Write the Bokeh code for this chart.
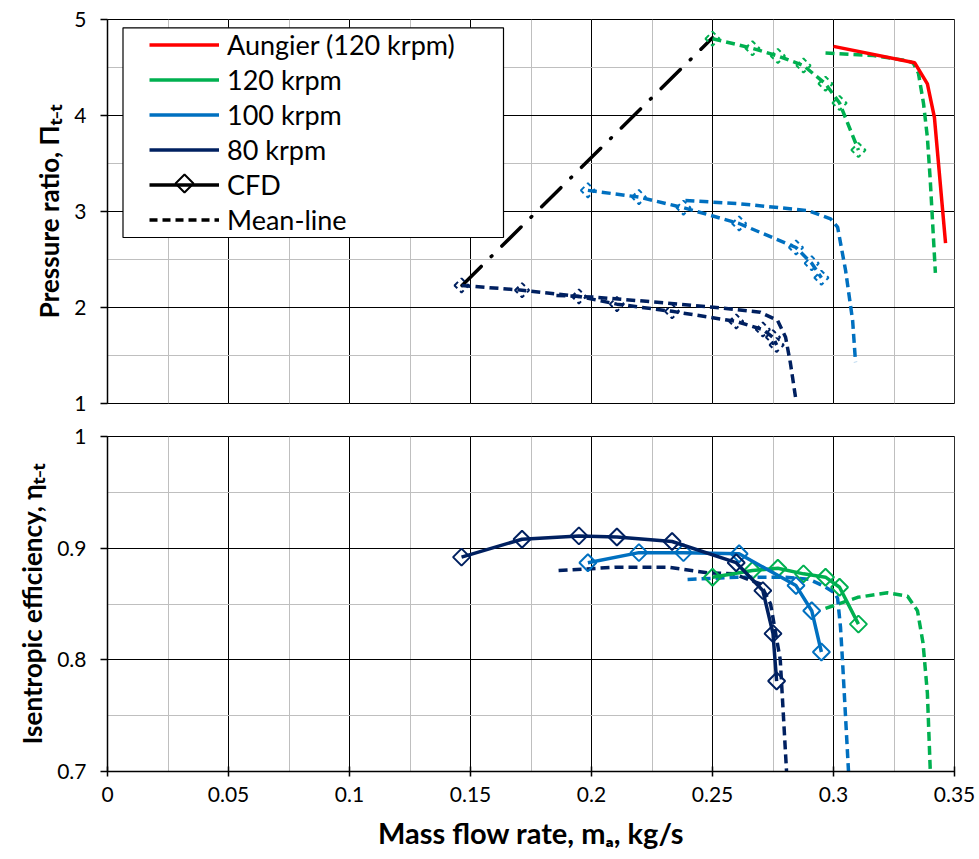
import numpy as np
from bokeh.plotting import figure
from bokeh.layouts import column
from bokeh.models import (Legend, LegendItem, SingleIntervalTicker, Range1d,
                          BoxAnnotation, PolyAnnotation, CustomJSTickFormatter)
from bokeh.embed import file_html
from bokeh.resources import INLINE

FONT = "Lato"
RED, GREEN, LBLUE, NAVY = "#ff0000", "#00b050", "#0070c0", "#002060"

# ---------------- data ----------------
aungier_x = [0.300, 0.3335, 0.3388, 0.3417, 0.3463]
aungier_pr = [4.72, 4.55, 4.33, 3.98, 2.67]

surge_x = [0.1465, 0.2500]
surge_pr = [2.23, 4.81]

cfd120_x = [0.2500, 0.2665, 0.2770, 0.2876, 0.2967, 0.3025, 0.3103]
cfd120_pr = [4.80, 4.70, 4.62, 4.52, 4.33, 4.13, 3.64]
cfd120_eta = [0.874, 0.880, 0.882, 0.877, 0.874, 0.865, 0.832]

cfd100_x = [0.1985, 0.2196, 0.2380, 0.2610, 0.2845, 0.2910, 0.2950]
cfd100_pr = [3.22, 3.15, 3.04, 2.875, 2.625, 2.46, 2.31]
cfd100_eta = [0.887, 0.896, 0.896, 0.895, 0.8665, 0.844, 0.807]

cfd80_x = [0.1463, 0.1713, 0.1948, 0.2105, 0.2333, 0.2598, 0.2708, 0.2750, 0.2765]
cfd80_pr = [2.23, 2.18, 2.115, 2.035, 1.96, 1.855, 1.77, 1.69, 1.61]
cfd80_eta = [0.892, 0.908, 0.911, 0.910, 0.906, 0.887, 0.862, 0.8235, 0.781]

ml120_x_pr = [0.2967, 0.3165, 0.3306, 0.3330, 0.3351, 0.3372, 0.3388, 0.3400, 0.3421]
ml120_pr = [4.65, 4.625, 4.57, 4.545, 4.44, 4.125, 3.77, 3.32, 2.36]
ml120_x_eta = [0.2967, 0.3100, 0.3223, 0.3306, 0.3347, 0.3370, 0.3388, 0.3400]
ml120_eta = [0.846, 0.856, 0.860, 0.857, 0.844, 0.815, 0.770, 0.700]

ml100_x_pr = [0.2388, 0.2616, 0.2893, 0.2988, 0.3017, 0.3050, 0.3079, 0.3091]
ml100_pr = [3.115, 3.08, 3.01, 2.924, 2.837, 2.385, 1.865, 1.43]
ml100_x_eta = [0.2397, 0.2600, 0.2800, 0.2900, 0.2960, 0.3005, 0.3017, 0.3029, 0.3037, 0.3062]
ml100_eta = [0.872, 0.874, 0.874, 0.872, 0.866, 0.860, 0.855, 0.829, 0.800, 0.700]

ml80_x_pr = [0.1855, 0.2000, 0.2200, 0.2504, 0.2698, 0.2769, 0.2802, 0.2822, 0.2843]
ml80_pr = [2.125, 2.11, 2.07, 2.003, 1.95, 1.865, 1.69, 1.42, 1.066]
ml80_x_eta = [0.1864, 0.2107, 0.2314, 0.2480, 0.2587, 0.2698, 0.2740, 0.2780, 0.2806]
ml80_eta = [0.880, 0.883, 0.883, 0.878, 0.877, 0.868, 0.850, 0.800, 0.700]

legend_labels = ["Aungier (120 krpm)", "120 krpm", "100 krpm", "80 krpm", "CFD", "Mean-line"]

x_label = "Mass flow rate, m\u2090, kg/s"
y1_label = "Pressure ratio, \u03a0\u209c\u208b\u209c"
y2_label = "Isentropic efficiency, \u03b7\u209c\u208b\u209c"

# ---------------- layout ----------------
W = 979
LEFT = 107
RIGHT = 25
DASH = "9 5"
LW = 3.5
XMAX = 0.35 + 1e-9

fmt = CustomJSTickFormatter(code="return String(Math.round(tick*10000)/10000);")


def style(p, yint):
    xt = SingleIntervalTicker(interval=0.05, num_minor_ticks=2)
    yt = SingleIntervalTicker(interval=yint, num_minor_ticks=2)
    p.xaxis.ticker = xt
    p.xgrid.ticker = xt
    p.yaxis.ticker = yt
    p.ygrid.ticker = yt
    for g in (p.xgrid, p.ygrid):
        g.grid_line_color = "black"
        g.grid_line_width = 1
        g.minor_grid_line_color = "#bfbfbf"
        g.minor_grid_line_width = 1
    for ax in (p.xaxis, p.yaxis):
        ax.axis_line_color = "black"
        ax.axis_line_width = 1.5
        ax.major_tick_line_color = "black"
        ax.major_tick_line_width = 1.5
        ax.minor_tick_line_color = None
        ax.major_label_text_font = FONT
        ax.major_label_text_font_size = "21px"
        ax.major_label_text_color = "black"
        ax.axis_label_text_font = FONT
        ax.axis_label_text_font_size = "26px"
        ax.axis_label_text_font_style = "bold"
        ax.axis_label_text_color = "black"
        ax.formatter = fmt
    p.yaxis.major_tick_out = 7
    p.yaxis.major_tick_in = 0
    p.yaxis.major_label_standoff = 14
    p.yaxis.axis_label_standoff = 6
    p.outline_line_color = "black"
    p.outline_line_width = 1
    p.background_fill_color = "white"
    p.border_fill_color = "white"


# ---------- top: pressure ratio ----------
p1 = figure(width=W, height=418, output_backend="svg", toolbar_location=None,
            x_range=Range1d(0, XMAX), y_range=Range1d(1, 5),
            min_border_left=LEFT, min_border_right=RIGHT,
            min_border_top=19, min_border_bottom=15)
style(p1, 1)
p1.xaxis.visible = False
p1.yaxis.axis_label = y1_label

p1.line(surge_x, surge_pr, line_color="black", line_width=LW,
        line_dash="27 14 1 14", line_cap="round")

for xs, ys, c in [(ml120_x_pr, ml120_pr, GREEN), (ml100_x_pr, ml100_pr, LBLUE),
                  (ml80_x_pr, ml80_pr, NAVY)]:
    p1.line(xs, ys, line_color=c, line_width=LW, line_dash=DASH)

for xs, ys, c in [(cfd120_x, cfd120_pr, GREEN), (cfd100_x, cfd100_pr, LBLUE),
                  (cfd80_x, cfd80_pr, NAVY)]:
    p1.line(xs, ys, line_color=c, line_width=LW, line_dash=DASH)
    p1.scatter(xs, ys, marker="square", angle=np.pi / 4, size=10,
               fill_alpha=0, line_color=c, line_width=2, line_dash="5 4")

p1.line(aungier_x, aungier_pr, line_color=RED, line_width=LW)

# legend-only renderers (no visible data)
NA = [np.nan]
r_red = p1.line(NA, NA, line_color=RED, line_width=LW)
r_green = p1.line(NA, NA, line_color=GREEN, line_width=LW)
r_blue = p1.line(NA, NA, line_color=LBLUE, line_width=LW)
r_navy = p1.line(NA, NA, line_color=NAVY, line_width=LW)
r_cfd_l = p1.line(NA, NA, line_color="black", line_width=LW)
r_ml = p1.line(NA, NA, line_color="black", line_width=LW, line_dash="8 5")

box = BoxAnnotation(left=15.5, right=396, bottom=166, top=375.7,
                    left_units="screen", right_units="screen",
                    top_units="screen", bottom_units="screen",
                    fill_color="white", fill_alpha=1,
                    line_color="black", line_alpha=1, line_width=1.2)
p1.add_layout(box)

items = [LegendItem(label=legend_labels[0], renderers=[r_red]),
         LegendItem(label=legend_labels[1], renderers=[r_green]),
         LegendItem(label=legend_labels[2], renderers=[r_blue]),
         LegendItem(label=legend_labels[3], renderers=[r_navy]),
         LegendItem(label=legend_labels[4], renderers=[r_cfd_l]),
         LegendItem(label=legend_labels[5], renderers=[r_ml])]
legend = Legend(items=items, location=(42, 167), padding=5, spacing=2,
                label_height=33, glyph_height=33, glyph_width=70,
                label_standoff=8, label_text_font=FONT,
                label_text_font_size="27px", label_text_color="black",
                border_line_color=None, background_fill_alpha=0, margin=0)
p1.add_layout(legend)

# hollow diamond symbol of the CFD legend entry (screen units, frame-relative)
cx, cy, hd = 77, 220, 9
cfd_symbol = PolyAnnotation(xs=[cx, cx + hd, cx, cx - hd], ys=[cy + hd, cy, cy - hd, cy],
                            xs_units="screen", ys_units="screen",
                            fill_color="white", fill_alpha=1,
                            line_color="black", line_alpha=1, line_width=2)
p1.add_layout(cfd_symbol)

# ---------- bottom: efficiency ----------
p2 = figure(width=W, height=441, output_backend="svg", toolbar_location=None,
            x_range=Range1d(0, XMAX), y_range=Range1d(0.7, 1.0),
            min_border_left=LEFT, min_border_right=RIGHT,
            min_border_top=18, min_border_bottom=88)
style(p2, 0.1)
p2.xaxis.major_tick_in = 5
p2.xaxis.major_tick_out = 5
p2.xaxis.major_label_standoff = 10
p2.xaxis.axis_label_standoff = 10
p2.xaxis.axis_label_text_font_size = "29px"
p2.xaxis.axis_label = x_label
p2.yaxis.axis_label = y2_label

for xs, ys, c in [(ml120_x_eta, ml120_eta, GREEN), (ml100_x_eta, ml100_eta, LBLUE),
                  (ml80_x_eta, ml80_eta, NAVY)]:
    p2.line(xs, ys, line_color=c, line_width=LW, line_dash=DASH)

for xs, ys, c in [(cfd120_x, cfd120_eta, GREEN), (cfd100_x, cfd100_eta, LBLUE),
                  (cfd80_x, cfd80_eta, NAVY)]:
    p2.line(xs, ys, line_color=c, line_width=LW)
    p2.scatter(xs, ys, marker="square", angle=np.pi / 4, size=12,
               fill_alpha=0, line_color=c, line_width=2)

layout = column(p1, p2, spacing=0)
open("out.html", "w").write(file_html(layout, INLINE))
